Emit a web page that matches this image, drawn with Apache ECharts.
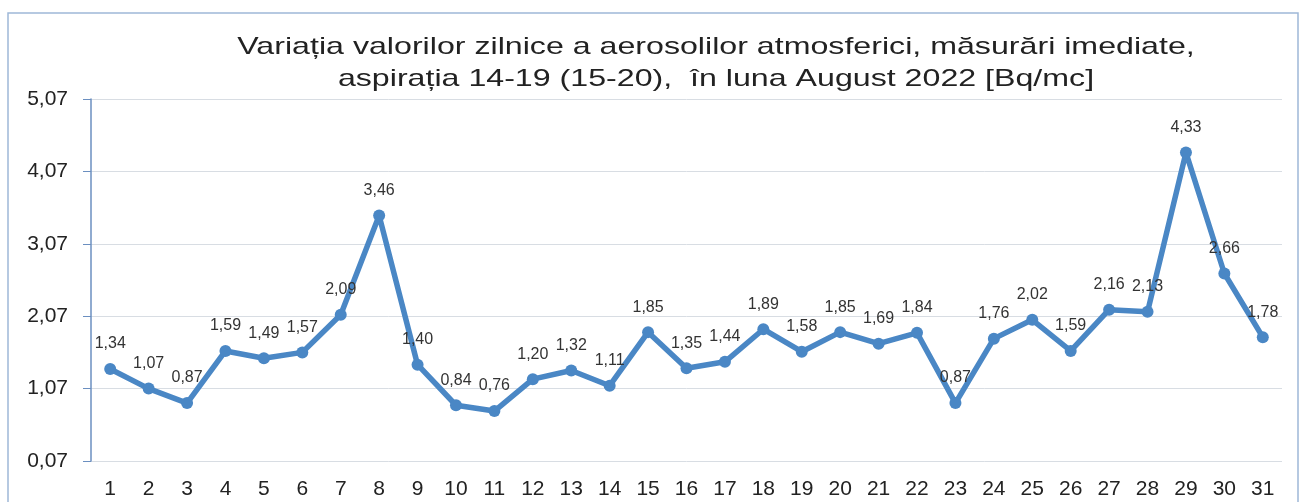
<!DOCTYPE html>
<html>
<head>
<meta charset="utf-8">
<script src="https://cdn.jsdelivr.net/npm/echarts@6/dist/echarts.min.js"></script>
<style>
  html, body { margin: 0; padding: 0; background: #fff; }
  #chart { width: 1300px; height: 502px; }
</style>
</head>
<body>
<div id="chart"></div>
<script>
// Days of August 2022
var days = ['1', '2', '3', '4', '5', '6', '7', '8', '9', '10', '11', '12', '13', '14', '15', '16',
            '17', '18', '19', '20', '21', '22', '23', '24', '25', '26', '27', '28', '29', '30', '31'];

// Daily aerosol values [Bq/mc]
var values = [1.34, 1.07, 0.87, 1.59, 1.49, 1.57, 2.09, 3.46, 1.40, 0.84,
              0.76, 1.20, 1.32, 1.11, 1.85, 1.35, 1.44, 1.89, 1.58, 1.85,
              1.69, 1.84, 0.87, 1.76, 2.02, 1.59, 2.16, 2.13, 4.33, 2.66, 1.78];

var yMin = 0.07;
var yMax = 5.07;
var yStep = 1;

var titleText = 'Variația valorilor zilnice a aerosolilor atmosferici, măsurări imediate,\n' +
                'aspirația 14-19 (15-20),  în luna August 2022 [Bq/mc]';

var lineColor = '#4a87c5';

function fmt(v) {
    return v.toFixed(2).replace('.', ',');
}

var chart = echarts.init(document.getElementById('chart'));

var option = {
    animation: false,
    backgroundColor: '#fff',
    graphic: [
        {
            type: 'rect',
            shape: { x: 8, y: 13, width: 1290, height: 495 },
            style: { fill: 'none', stroke: '#9fb8d8', lineWidth: 1.5 }
        },
        {
            // the scan is stretched sideways, so the title is too
            type: 'text',
            x: 716,
            y: 31,
            scaleX: 1.34,
            style: {
                text: titleText,
                fontFamily: 'Liberation Sans',
                fontSize: 24,
                lineHeight: 32,
                fill: '#222',
                align: 'center',
                verticalAlign: 'top'
            }
        }
    ],
    grid: {
        left: 91,
        right: 18,
        top: 99,
        bottom: 41
    },
    xAxis: {
        type: 'category',
        data: days,
        axisLine: { show: false },
        axisTick: { show: false },
        axisLabel: {
            fontFamily: 'Liberation Sans',
            fontSize: 21,
            color: '#222',
            margin: 18
        }
    },
    yAxis: {
        type: 'value',
        min: yMin,
        max: yMax,
        interval: yStep,
        axisLine: { show: true, lineStyle: { color: '#6b8fc0', width: 1.5 } },
        axisTick: { show: true, length: 8, lineStyle: { color: '#6b8fc0' } },
        splitLine: { show: true, lineStyle: { color: '#d8dde3', width: 1 } },
        axisLabel: {
            fontFamily: 'Liberation Sans',
            fontSize: 21,
            color: '#222',
            margin: 23,
            formatter: fmt
        }
    },
    series: [{
        type: 'line',
        data: values,
        symbol: 'circle',
        symbolSize: 12,
        lineStyle: { color: lineColor, width: 5.5 },
        itemStyle: { color: lineColor },
        label: {
            show: true,
            position: 'top',
            distance: 11,
            fontFamily: 'Liberation Sans',
            fontSize: 16,
            color: '#333',
            formatter: function (p) {
                return fmt(p.value);
            }
        }
    }]
};

chart.setOption(option);
</script>
</body>
</html>
